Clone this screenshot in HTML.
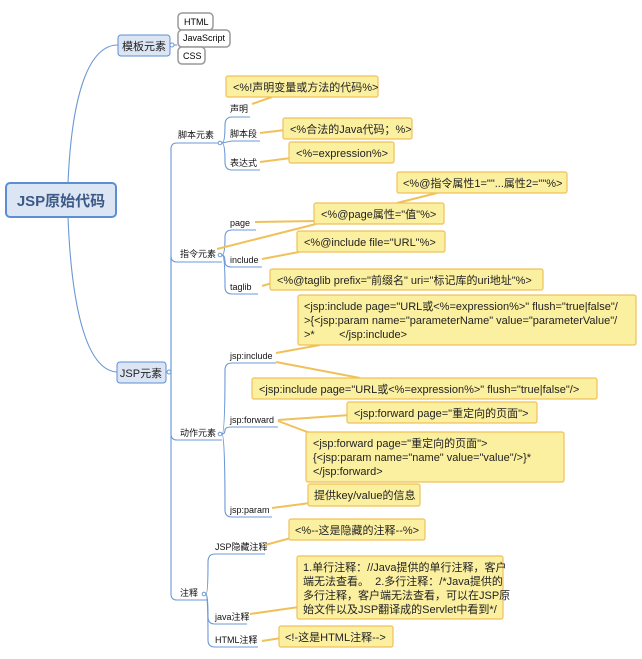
<!DOCTYPE html>
<html><head><meta charset="utf-8"><style>
body{margin:0;background:#fff;}
svg{display:block;}
text{font-family:"Liberation Sans","Noto Sans CJK SC",sans-serif;}
.lb{font-size:9px;fill:#111;}
.cb{font-size:11px;fill:#222;}
.co{fill:#fbefa0;stroke:#f0c15a;stroke-width:1.2;}
.pt{stroke:#f0c15a;stroke-width:2;fill:none;}
.ln{stroke:#6b98d6;stroke-width:1.1;fill:none;}
</style></head><body>
<svg width="642" height="659" viewBox="0 0 642 659" xmlns="http://www.w3.org/2000/svg">
<path class="ln" d="M68,183 C72,90 90,45 118,45"/>
<path class="ln" d="M68,217 C72,320 90,372 118,372"/>
<rect x="6" y="183" width="110" height="34" rx="4" fill="#dbe5f3" stroke="#5b8fd4" stroke-width="2"/>
<text x="61" y="206" text-anchor="middle" style="font-size:15px;font-weight:bold;fill:#3d5a86">JSP原始代码</text>
<rect x="118" y="35" width="52" height="21" rx="3" fill="#dbe5f3" stroke="#5b8fd4"/>
<text x="144" y="50" text-anchor="middle" style="font-size:11px;fill:#222">模板元素</text>
<circle cx="172" cy="45" r="2" fill="#fff" stroke="#6b98d6"/>
<path class="ln" d="M174,45 L177,45"/>
<rect x="178" y="13" width="35" height="17" rx="4" fill="#fff" stroke="#999" stroke-width="1.5"/>
<text x="184" y="25" style="font-size:9px">HTML</text>
<rect x="178" y="30" width="52" height="17" rx="4" fill="#fff" stroke="#999" stroke-width="1.5"/>
<text x="183" y="41" style="font-size:9px">JavaScript</text>
<rect x="178" y="47" width="27" height="17" rx="4" fill="#fff" stroke="#999" stroke-width="1.5"/>
<text x="183" y="59" style="font-size:9px">CSS</text>
<rect x="117" y="362" width="49" height="21" rx="3" fill="#dbe5f3" stroke="#5b8fd4"/>
<text x="141" y="377" text-anchor="middle" style="font-size:11px;fill:#222">JSP元素</text>
<circle cx="169" cy="372" r="2" fill="#fff" stroke="#6b98d6"/>
<path class="ln" d="M171,372 L171,149 Q171,143 177,143 L222,143"/>
<path class="ln" d="M171,372 L171,256 Q171,262 177,262 L222,262"/>
<path class="ln" d="M171,372 L171,434 Q171,440 177,440 L222,440"/>
<path class="ln" d="M171,372 L171,594 Q171,600 177,600 L208,600"/>
<text class="lb" x="178" y="138">脚本元素</text>
<text class="lb" x="180" y="257">指令元素</text>
<text class="lb" x="180" y="436">动作元素</text>
<text class="lb" x="180" y="596">注释</text>
<circle cx="220" cy="143" r="1.8" fill="#fff" stroke="#6b98d6"/>
<circle cx="220" cy="255" r="1.8" fill="#fff" stroke="#6b98d6"/>
<circle cx="220" cy="434" r="1.8" fill="#fff" stroke="#6b98d6"/>
<circle cx="204" cy="594" r="1.8" fill="#fff" stroke="#6b98d6"/>
<path class="ln" d="M222,143 Q225,143 225,125 Q225,117 232,117 L250,117"/>
<path class="ln" d="M222,143 L232,141 L260,141"/>
<path class="ln" d="M222,143 Q225,143 225,162 Q225,170 232,170 L260,170"/>
<text class="lb" x="230" y="112">声明</text>
<text class="lb" x="230" y="137">脚本段</text>
<text class="lb" x="230" y="166">表达式</text>
<path class="ln" d="M222,255 Q225,255 225,237 Q225,230 232,230 L256,230"/>
<path class="ln" d="M222,255 Q225,255 225,262 Q225,267 232,267 L262,267"/>
<path class="ln" d="M222,255 Q225,255 225,287 Q225,294 232,294 L258,294"/>
<text class="lb" x="230" y="226">page</text>
<text class="lb" x="230" y="263">include</text>
<text class="lb" x="230" y="290">taglib</text>
<path class="ln" d="M222,434 Q225,434 225,370 Q225,363 232,363 L276,363"/>
<path class="ln" d="M222,434 Q225,434 225,430 Q225,427 232,427 L278,427"/>
<path class="ln" d="M222,434 Q225,434 225,510 Q225,517 232,517 L272,517"/>
<text class="lb" x="230" y="359">jsp:include</text>
<text class="lb" x="230" y="423">jsp:forward</text>
<text class="lb" x="230" y="513">jsp:param</text>
<path class="ln" d="M206,594 Q208,594 208,562 Q208,554 215,554 L265,554"/>
<path class="ln" d="M206,594 Q208,594 208,617 Q208,624 215,624 L247,624"/>
<path class="ln" d="M206,594 Q208,594 208,640 Q208,647 215,647 L258,647"/>
<text class="lb" x="215" y="550">JSP隐藏注释</text>
<text class="lb" x="215" y="620">java注释</text>
<text class="lb" x="215" y="643">HTML注释</text>
<path class="pt" d="M252,104 L272,97"/>
<path class="pt" d="M260,133 L285,130"/>
<path class="pt" d="M260,162 L291,158"/>
<path class="pt" d="M437,193 L397,203"/>
<path class="pt" d="M255,222 L316,221"/>
<path class="pt" d="M217,249 L316,224"/>
<path class="pt" d="M262,259 L299,252"/>
<path class="pt" d="M262,286 L272,283"/>
<path class="pt" d="M276,353 L320,345"/>
<path class="pt" d="M276,362 L360,378"/>
<path class="pt" d="M278,420 L350,415"/>
<path class="pt" d="M278,421 L310,433"/>
<path class="pt" d="M272,508 L310,503"/>
<path class="pt" d="M265,545 L291,538"/>
<path class="pt" d="M250,614 L299,607"/>
<path class="pt" d="M262,641 L281,638"/>
<rect class="co" x="226" y="76" width="152" height="21" rx="2"/>
<text class="cb" x="233" y="91">&lt;%!声明变量或方法的代码%&gt;</text>
<rect class="co" x="283" y="118" width="129" height="21" rx="2"/>
<text class="cb" x="290" y="133">&lt;%合法的Java代码；%&gt;</text>
<rect class="co" x="289" y="142" width="105" height="21" rx="2"/>
<text class="cb" x="296" y="157">&lt;%=expression%&gt;</text>
<rect class="co" x="397" y="172" width="170" height="21" rx="2"/>
<text class="cb" x="403" y="187">&lt;%@指令属性1=""...属性2=""%&gt;</text>
<rect class="co" x="314" y="203" width="130" height="21" rx="2"/>
<text class="cb" x="321" y="218">&lt;%@page属性="值"%&gt;</text>
<rect class="co" x="297" y="231" width="148" height="21" rx="2"/>
<text class="cb" x="304" y="246">&lt;%@include file="URL"%&gt;</text>
<rect class="co" x="270" y="269" width="273" height="21" rx="2"/>
<text class="cb" x="277" y="284">&lt;%@taglib prefix="前缀名" uri="标记库的uri地址"%&gt;</text>
<rect class="co" x="298" y="295" width="338" height="50" rx="2"/>
<text class="cb" x="304" y="310">&lt;jsp:include page="URL或&lt;%=expression%&gt;" flush="true|false"/</text>
<text class="cb" x="304" y="324">&gt;{&lt;jsp:param name="parameterName" value="parameterValue"/</text>
<text class="cb" x="304" y="338">&gt;*&#160;&#160;&#160;&#160;&#160;&#160;&#160;&#160;&lt;/jsp:include&gt;</text>
<rect class="co" x="252" y="378" width="345" height="21" rx="2"/>
<text class="cb" x="259" y="393">&lt;jsp:include page="URL或&lt;%=expression%&gt;" flush="true|false"/&gt;</text>
<rect class="co" x="347" y="402" width="190" height="21" rx="2"/>
<text class="cb" x="354" y="417">&lt;jsp:forward page="重定向的页面"&gt;</text>
<rect class="co" x="306" y="432" width="258" height="50" rx="2"/>
<text class="cb" x="313" y="447">&lt;jsp:forward page="重定向的页面"&gt;</text>
<text class="cb" x="313" y="461">{&lt;jsp:param name="name" value="value"/&gt;}*</text>
<text class="cb" x="313" y="475">&lt;/jsp:forward&gt;</text>
<rect class="co" x="308" y="484" width="112" height="22" rx="2"/>
<text class="cb" x="314" y="499">提供key/value的信息</text>
<rect class="co" x="289" y="519" width="136" height="21" rx="2"/>
<text class="cb" x="295" y="534">&lt;%--这是隐藏的注释--%&gt;</text>
<rect class="co" x="297" y="556" width="206" height="63" rx="2"/>
<text class="cb" x="303" y="571">1.单行注释：//Java提供的单行注释，客户</text>
<text class="cb" x="303" y="585">端无法查看。&#160;&#160;2.多行注释：/*Java提供的</text>
<text class="cb" x="303" y="599">多行注释，客户端无法查看，可以在JSP原</text>
<text class="cb" x="303" y="613">始文件以及JSP翻译成的Servlet中看到*/</text>
<rect class="co" x="279" y="626" width="114" height="21" rx="2"/>
<text class="cb" x="285" y="641">&lt;!-这是HTML注释--&gt;</text>
</svg>
</body></html>
